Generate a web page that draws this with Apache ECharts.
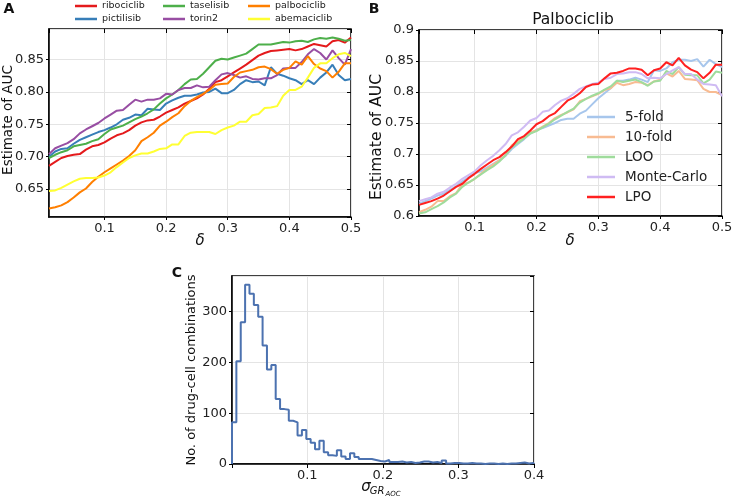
<!DOCTYPE html>
<html><head><meta charset="utf-8">
<script src="https://cdn.jsdelivr.net/npm/echarts@6.0.0/dist/echarts.min.js"></script>
<style>html,body{margin:0;padding:0;background:#fff}#c{width:733px;height:497px}</style>
</head><body><div id="c"></div>
<script>
// ---------- data ----------
const delta = [0.01,0.02,0.03,0.04,0.05,0.06,0.07,0.08,0.09,0.10,0.11,0.12,0.13,0.14,0.15,0.16,0.17,0.18,0.19,0.20,0.21,0.22,0.23,0.24,0.25,0.26,0.27,0.28,0.29,0.30,0.31,0.32,0.33,0.34,0.35,0.36,0.37,0.38,0.39,0.40,0.41,0.42,0.43,0.44,0.45,0.46,0.47,0.48,0.49,0.50];

// Panel A
const drugNames = ['ribociclib','pictilisib','taselisib','torin2','palbociclib','abemaciclib'];
const ribociclib = [0.686,0.692,0.698,0.701,0.703,0.704,0.711,0.716,0.718,0.722,0.728,0.733,0.736,0.741,0.748,0.753,0.756,0.757,0.762,0.768,0.772,0.776,0.782,0.786,0.790,0.796,0.805,0.815,0.818,0.824,0.830,0.836,0.842,0.849,0.856,0.860,0.863,0.864,0.865,0.866,0.864,0.866,0.870,0.874,0.872,0.870,0.878,0.880,0.876,0.884];
const pictilisib = [0.700,0.708,0.712,0.713,0.720,0.726,0.730,0.734,0.738,0.741,0.745,0.750,0.757,0.760,0.765,0.764,0.774,0.773,0.772,0.782,0.787,0.791,0.794,0.794,0.796,0.799,0.800,0.805,0.798,0.798,0.803,0.812,0.818,0.815,0.816,0.810,0.838,0.828,0.825,0.821,0.818,0.812,0.818,0.812,0.822,0.830,0.842,0.826,0.818,0.820];
const taselisib = [0.698,0.703,0.707,0.710,0.716,0.718,0.720,0.724,0.727,0.735,0.742,0.745,0.748,0.753,0.758,0.762,0.767,0.773,0.782,0.790,0.796,0.803,0.812,0.819,0.820,0.828,0.838,0.848,0.851,0.850,0.853,0.856,0.859,0.866,0.873,0.873,0.873,0.875,0.877,0.876,0.878,0.879,0.877,0.881,0.883,0.882,0.884,0.882,0.879,0.880];
const torin2 = [0.704,0.713,0.717,0.721,0.727,0.736,0.742,0.747,0.752,0.759,0.765,0.771,0.772,0.780,0.788,0.785,0.788,0.788,0.790,0.797,0.796,0.803,0.806,0.806,0.810,0.807,0.808,0.818,0.827,0.829,0.826,0.822,0.824,0.820,0.819,0.821,0.821,0.826,0.836,0.837,0.837,0.846,0.858,0.866,0.860,0.850,0.864,0.852,0.842,0.866];
const palbociclib = [0.620,0.622,0.625,0.630,0.637,0.645,0.651,0.661,0.669,0.676,0.682,0.688,0.694,0.701,0.710,0.724,0.730,0.737,0.748,0.754,0.761,0.767,0.778,0.786,0.792,0.797,0.803,0.811,0.812,0.813,0.823,0.830,0.832,0.834,0.838,0.839,0.835,0.828,0.834,0.837,0.847,0.842,0.855,0.843,0.836,0.832,0.822,0.831,0.844,0.844];
const abemaciclib = [0.647,0.648,0.652,0.657,0.662,0.666,0.667,0.667,0.668,0.671,0.676,0.684,0.691,0.698,0.702,0.705,0.705,0.708,0.712,0.713,0.719,0.719,0.732,0.737,0.738,0.738,0.738,0.735,0.741,0.745,0.748,0.754,0.754,0.764,0.766,0.775,0.776,0.778,0.794,0.803,0.803,0.808,0.822,0.837,0.844,0.844,0.852,0.858,0.860,0.855];
const drugValues = [ribociclib,pictilisib,taselisib,torin2,palbociclib,abemaciclib];
const drugColors = ['#e41a1c','#377eb8','#4daf4a','#984ea3','#ff7f00','#ffff33'];

// Panel B
const cvNames = ['5-fold','10-fold','LOO','Monte-Carlo','LPO'];
const fiveFold = [0.620,0.624,0.628,0.633,0.636,0.642,0.648,0.656,0.662,0.669,0.672,0.678,0.684,0.690,0.697,0.708,0.716,0.724,0.733,0.739,0.742,0.746,0.750,0.755,0.757,0.757,0.765,0.770,0.780,0.790,0.798,0.806,0.818,0.818,0.820,0.823,0.820,0.816,0.835,0.834,0.838,0.848,0.852,0.852,0.850,0.853,0.841,0.852,0.845,0.840];
const tenFold = [0.606,0.610,0.615,0.624,0.624,0.632,0.637,0.651,0.654,0.660,0.668,0.676,0.683,0.690,0.698,0.714,0.721,0.728,0.735,0.738,0.744,0.750,0.758,0.763,0.767,0.772,0.785,0.789,0.793,0.797,0.803,0.806,0.815,0.811,0.813,0.816,0.815,0.811,0.817,0.820,0.830,0.825,0.834,0.821,0.820,0.819,0.805,0.800,0.800,0.795];
const loo = [0.604,0.606,0.611,0.616,0.622,0.630,0.636,0.647,0.654,0.660,0.667,0.674,0.680,0.688,0.698,0.711,0.718,0.725,0.733,0.737,0.743,0.749,0.756,0.762,0.768,0.773,0.783,0.789,0.794,0.798,0.804,0.809,0.818,0.816,0.818,0.820,0.816,0.810,0.817,0.818,0.834,0.829,0.840,0.828,0.827,0.827,0.814,0.820,0.833,0.831];
const monteCarlo = [0.624,0.627,0.630,0.636,0.639,0.646,0.652,0.660,0.666,0.672,0.682,0.690,0.697,0.706,0.716,0.730,0.735,0.744,0.754,0.758,0.768,0.770,0.779,0.786,0.790,0.797,0.805,0.809,0.813,0.815,0.821,0.823,0.829,0.830,0.832,0.832,0.829,0.822,0.823,0.822,0.829,0.835,0.840,0.829,0.829,0.820,0.813,0.812,0.811,0.793];
const lpo = [0.618,0.621,0.624,0.628,0.633,0.640,0.647,0.652,0.661,0.668,0.676,0.683,0.690,0.695,0.703,0.712,0.724,0.729,0.738,0.748,0.753,0.761,0.766,0.776,0.786,0.791,0.798,0.808,0.812,0.813,0.822,0.830,0.831,0.834,0.838,0.838,0.836,0.827,0.835,0.838,0.848,0.843,0.855,0.843,0.836,0.832,0.822,0.831,0.844,0.844];
const cvValues = [fiveFold,tenFold,loo,monteCarlo,lpo];
const cvColors = ['#a7c6ec','#f8bb92','#9fdc9c','#cfbbf3','#ff2020'];

// Panel C histogram
const binStart = 0.0005;
const binWidth = 0.00578;
const counts = [82,202,279,353,335,313,290,233,186,195,128,108,107,85,82,56,67,49,42,29,46,23,17,16,27,15,10,21,14,10,10,10,8,6,5,8,4,4,5,3,4,2,3,5,5,3,4,2,7,1,2,2,1,1,2,1,1,0,1,1,0,1,0,1,1,2,3,1,2];

// ---------- chart ----------
const FONT = 'DejaVu Sans';
const TXT = '#222';
function pairs(ys){ return ys.map((y,i)=>[delta[i], y]); }
function histSteps(){
  const pts = [[binStart,0]];
  counts.forEach((c,i)=>{ const a = binStart + i*binWidth; pts.push([a,c]); pts.push([a+binWidth,c]); });
  pts.push([binStart + counts.length*binWidth, 0]);
  return pts;
}
function mainX(g,min,max,step,showMax){
  return {type:'value',gridIndex:g,min,max,minInterval:step,maxInterval:step,position:'bottom',
    axisLine:{show:true,onZero:false,lineStyle:{color:'#000',width:1.5}},
    axisTick:{show:true,inside:false,length:3,lineStyle:{color:'#000'}},
    axisLabel:{show:true,showMinLabel:false,showMaxLabel:showMax,color:TXT,fontFamily:FONT,fontSize:13,margin:5},
    splitLine:{show:true,lineStyle:{color:'#e4e4e4',width:1}}};
}
function mainY(g,min,max,step,opts){
  return Object.assign({type:'value',gridIndex:g,min,max,minInterval:step,maxInterval:step,position:'left',
    axisLine:{show:true,onZero:false,lineStyle:{color:'#000',width:1.5}},
    axisTick:{show:true,inside:false,length:3,lineStyle:{color:'#000'}},
    axisLabel:Object.assign({show:true,color:TXT,fontFamily:FONT,fontSize:13,margin:5},opts||{}),
    splitLine:{show:true,lineStyle:{color:'#e4e4e4',width:1}}});
}
function mirX(g,min,max,step){
  return {type:'value',gridIndex:g,min,max,minInterval:step,maxInterval:step,position:'top',
    axisLine:{show:false},axisTick:{show:true,inside:true,length:4,lineStyle:{color:'#000'}},
    axisLabel:{show:false},splitLine:{show:false}};
}
function mirY(g,min,max,step){
  return {type:'value',gridIndex:g,min,max,minInterval:step,maxInterval:step,position:'right',
    axisLine:{show:false},axisTick:{show:true,inside:true,length:4,lineStyle:{color:'#000'}},
    axisLabel:{show:false},splitLine:{show:false}};
}
const gridBase = {show:true,borderColor:'#000',borderWidth:1.5,backgroundColor:'transparent',containLabel:false,outerBoundsMode:'none'};

const series = [];
drugNames.forEach((n,i)=>series.push({name:n,type:'line',xAxisIndex:0,yAxisIndex:0,data:pairs(drugValues[i]),
  symbol:'none',lineStyle:{width:2,color:drugColors[i]},itemStyle:{color:drugColors[i]},z:2+i}));
cvNames.forEach((n,i)=>series.push({name:n,type:'line',xAxisIndex:2,yAxisIndex:2,data:pairs(cvValues[i]),
  symbol:'none',lineStyle:{width:2,color:cvColors[i]},itemStyle:{color:cvColors[i]},z:2+i}));
series.push({name:'hist',type:'line',xAxisIndex:4,yAxisIndex:4,data:histSteps(),symbol:'none',
  lineStyle:{width:2,color:'#4c72b0'},itemStyle:{color:'#4c72b0'},z:3});

// legends
const legends = [];
const aPos = [[75,7],[75,20],[163,7],[163,20],[248,7],[248,20]];
drugNames.forEach((n,i)=>legends.push({data:[n],left:aPos[i][0],top:aPos[i][1]-6,orient:'horizontal',
  icon:'rect',itemWidth:22,itemHeight:2.5,padding:0,selectedMode:false,
  textStyle:{fontFamily:FONT,fontSize:9.5,color:TXT,padding:[0,0,0,0]}}));
const bPos = [118,138,158,178,198];
cvNames.forEach((n,i)=>legends.push({data:[n],left:587,top:bPos[i]-8,orient:'horizontal',
  icon:'rect',itemWidth:28,itemHeight:2.5,padding:0,selectedMode:false,
  textStyle:{fontFamily:FONT,fontSize:13.5,color:TXT,padding:[0,0,0,5]}}));

function txt(x,y,text,size,extra){
  return {type:'text',x,y,style:Object.assign({text,fontFamily:FONT,fontSize:size,fill:'#111',align:'center',verticalAlign:'middle'},extra||{}),silent:true};
}
function vtxt(x,y,text,size){
  return {type:'text',x,y,rotation:Math.PI/2,style:{text,fontFamily:FONT,fontSize:size,fill:'#111',align:'center',verticalAlign:'middle'},silent:true};
}

const option = {
  animation:false,
  backgroundColor:'#fff',
  grid:[
    Object.assign({left:49,top:29,width:302,height:188},gridBase),
    Object.assign({left:419,top:30,width:303,height:186},gridBase),
    Object.assign({left:232,top:276,width:302,height:188},gridBase)
  ],
  xAxis:[
    mainX(0,0.01,0.5,0.1,true), mirX(0,0.01,0.5,0.1),
    mainX(1,0.01,0.5,0.1,true), mirX(1,0.01,0.5,0.1),
    mainX(2,0.0005,0.4,0.1,true), mirX(2,0.0005,0.4,0.1)
  ],
  yAxis:[
    mainY(0,0.607,0.897,0.05,{showMinLabel:false,showMaxLabel:false,formatter:v=>v.toFixed(2)}), mirY(0,0.607,0.897,0.05),
    mainY(1,0.6,0.9,0.05,{showMinLabel:true,showMaxLabel:true}), mirY(1,0.6,0.9,0.05),
    mainY(2,0,370,100,{showMinLabel:true,showMaxLabel:false}), mirY(2,0,370,100)
  ],
  legend:legends,
  series:series,
  graphic:[
    txt(9,9,'A',14,{fontWeight:'bold'}),
    txt(374,9,'B',14,{fontWeight:'bold'}),
    txt(177,273,'C',14,{fontWeight:'bold'}),
    txt(573,20,'Palbociclib',15.5),
    vtxt(8,120,'Estimate of AUC',13.5),
    vtxt(377,137,'Estimate of AUC',15.5),
    vtxt(192,370,'No. of drug-cell combinations',13),
    txt(200,241,'δ',15,{fontStyle:'italic'}),
    txt(570,241,'δ',15,{fontStyle:'italic'}),
    txt(366,487,'σ',15,{fontStyle:'italic'}),
    txt(377,491,'GR',10,{fontStyle:'italic'}),
    txt(393,494,'AOC',7,{fontStyle:'italic'})
  ]
};
const chart = echarts.init(document.getElementById('c'),null,{renderer:'canvas'});
chart.setOption(option);
</script></body></html>
